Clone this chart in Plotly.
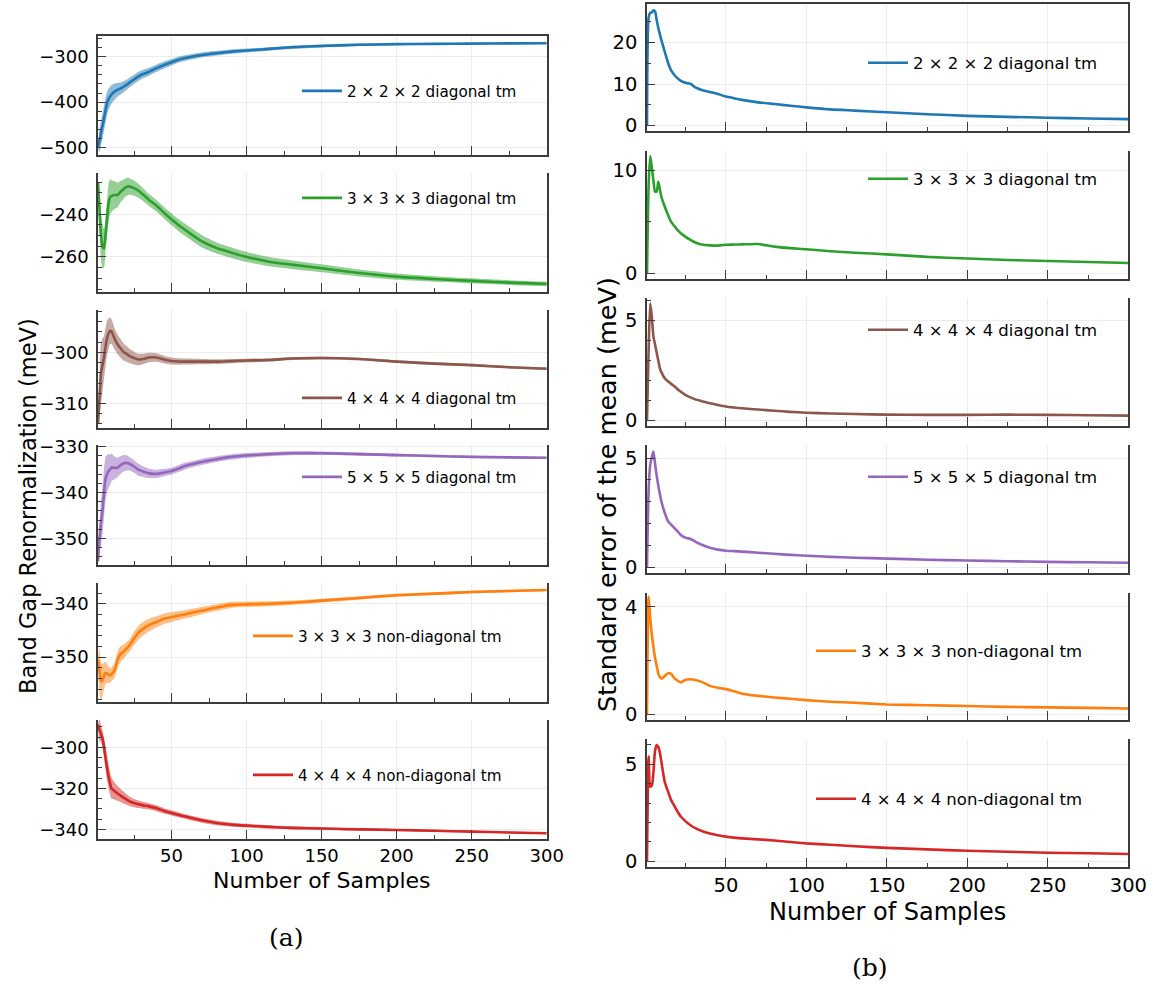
import plotly.graph_objects as go

W, H = 1153, 990

# ---------------- data ----------------
X = [1, 2, 3, 4, 5, 6, 7, 8, 9, 10, 12, 14, 16, 18, 20, 22, 25, 28, 31, 35, 40, 45,
     50, 55, 60, 70, 80, 90, 100, 115, 130, 150, 175, 200, 225, 250, 275, 300]

labels = ["2 × 2 × 2 diagonal tm", "3 × 3 × 3 diagonal tm", "4 × 4 × 4 diagonal tm",
          "5 × 5 × 5 diagonal tm", "3 × 3 × 3 non-diagonal tm", "4 × 4 × 4 non-diagonal tm"]
colors = ["#1f77b4", "#2ca02c", "#8c564b", "#9467bd", "#ff7f0e", "#d62728"]

# Band gap renormalization (meV), mean
mean_222d = [-500, -485, -468, -453, -436, -419, -403, -394, -388, -383, -377, -373, -370, -366,
             -362, -357, -350, -343, -338, -333, -325, -318, -312, -306, -302, -296, -292, -288.5,
             -286, -282.5, -279, -276, -273.5, -272, -271.3, -270.8, -270.3, -270]
mean_333d = [-225, -238, -250, -255, -256, -250, -242, -235, -232, -231.5, -231, -231, -229.5,
             -228.3, -227.2, -227, -227.8, -229, -230.8, -233.3, -236, -239.3, -242.4, -245.3,
             -247.8, -252.6, -255.8, -258, -260, -262.2, -263.6, -265.3, -267.5, -269.2, -270.3,
             -271.2, -272, -272.6]
mean_444d = [-314, -309, -304, -302.5, -301, -299, -297.2, -296.3, -295.8, -295.9, -297.3, -298.4,
             -299.2, -299.9, -300.3, -300.7, -301.1, -301.4, -301.3, -301, -301, -301.4, -301.7,
             -301.8, -301.8, -301.8, -301.8, -301.7, -301.6, -301.5, -301.2, -301.1, -301.3,
             -301.8, -302.2, -302.5, -302.9, -303.2]
mean_555d = [-355, -350, -346.5, -344, -340, -337, -336, -335.3, -335, -334.5, -334.6, -334.5,
             -334, -333.6, -333.5, -333.7, -334.3, -335, -335.4, -335.8, -335.9, -335.6, -335.3,
             -334.7, -334.1, -333.3, -332.7, -332.2, -331.9, -331.6, -331.4, -331.4, -331.6,
             -331.8, -332, -332.2, -332.3, -332.4]
mean_333n = [-350.5, -352.5, -354.5, -354.3, -353.5, -353, -353, -353.3, -353.4, -353.2, -352.5,
             -350.5, -349.4, -349, -348.4, -347.8, -346.5, -345.4, -344.7, -344, -343.4, -342.8,
             -342.5, -342.2, -341.9, -341.3, -340.7, -340.2, -340.1, -340, -339.8, -339.4,
             -338.9, -338.4, -338.1, -337.8, -337.6, -337.4]
mean_444n = [-289, -291.5, -293.5, -295.6, -300, -305, -310, -314, -317.5, -320, -321.3, -322.5,
             -323.5, -324.5, -325.4, -326.3, -327.2, -327.8, -328.3, -328.8, -329.7, -331, -332,
             -333, -333.9, -335.6, -336.9, -337.7, -338.2, -338.8, -339.3, -339.6, -340, -340.3,
             -340.7, -341.1, -341.5, -341.9]

# Standard error of the mean (meV)
sem_222d = [0, 26, 27.2, 27.3, 27.8, 27.5, 25.5, 23.5, 22, 20.5, 17.8, 15.2, 13.3, 12.2, 11.4,
            10.8, 10.3, 10.1, 9.2, 8.6, 8.1, 7.6, 7.0, 6.6, 6.2, 5.6, 5.2, 4.8, 4.4, 3.9, 3.6,
            3.2, 2.75, 2.35, 2.1, 1.9, 1.7, 1.55]
sem_333d = [0, 8.5, 11.4, 10.3, 9.0, 7.95, 7.95, 8.9, 8.2, 7.4, 6.5, 5.7, 5.0, 4.6, 4.2, 3.9,
            3.55, 3.25, 3.0, 2.8, 2.72, 2.7, 2.78, 2.8, 2.82, 2.85, 2.6, 2.45, 2.35, 2.15, 2.0,
            1.85, 1.6, 1.45, 1.3, 1.2, 1.1, 1.0]
sem_444d = [0, 3.5, 5.87, 5.2, 4.2, 3.8, 3.4, 3.0, 2.6, 2.4, 2.1, 1.95, 1.82, 1.7, 1.55, 1.42,
            1.25, 1.14, 1.04, 0.95, 0.85, 0.76, 0.68, 0.63, 0.59, 0.53, 0.47, 0.41, 0.37, 0.33,
            0.3, 0.27, 0.26, 0.26, 0.27, 0.26, 0.24, 0.22]
sem_555d = [0, 3.5, 4.7, 5.05, 5.3, 4.75, 4.2, 3.75, 3.35, 3.0, 2.5, 2.12, 1.95, 1.8, 1.65, 1.48,
            1.35, 1.3, 1.18, 1.03, 0.9, 0.81, 0.76, 0.74, 0.72, 0.67, 0.62, 0.57, 0.53, 0.48,
            0.44, 0.4, 0.35, 0.31, 0.28, 0.25, 0.23, 0.21]
sem_333n = [0, 4.38, 3.6, 2.95, 2.5, 2.1, 1.8, 1.52, 1.38, 1.32, 1.42, 1.52, 1.5, 1.33, 1.25,
            1.18, 1.28, 1.3, 1.27, 1.2, 1.05, 0.98, 0.93, 0.85, 0.76, 0.68, 0.62, 0.57, 0.52,
            0.46, 0.42, 0.36, 0.33, 0.3, 0.27, 0.25, 0.23, 0.21]
sem_444n = [0, 5.4, 3.85, 3.9, 4.6, 5.7, 6.0, 5.9, 5.6, 5.1, 4.1, 3.6, 3.15, 2.85, 2.55, 2.3,
            2.05, 1.85, 1.7, 1.55, 1.42, 1.33, 1.26, 1.21, 1.17, 1.12, 1.06, 0.98, 0.91, 0.84,
            0.76, 0.68, 0.6, 0.53, 0.48, 0.43, 0.4, 0.36]

means = [mean_222d, mean_333d, mean_444d, mean_555d, mean_333n, mean_444n]
sems = [sem_222d, sem_333d, sem_444d, sem_555d, sem_333n, sem_444n]

# ---------------- layout geometry (px) ----------------
left_x = (98, 546.7)
right_x = (647, 1128.4)
left_rows = [(36, 155), (173, 292), (310, 428), (445, 565), (583, 702), (720, 839)]
right_rows = [(4, 131), (151, 279), (298, 426), (445, 573), (593, 720), (739, 867)]

left_yr = [(-517, -254), (-276.4, -220.7), (-314.8, -291.7), (-355.8, -329.6),
           (-358.4, -336.1), (-344.7, -286.7)]
left_dt = [(100, 20), (20, 5), (10, 2), (10, 2), (10, 2), (20, 5)]
right_yr = [(-1.3, 29.3), (-0.55, 11.9), (-0.3, 6.14), (-0.26, 5.6), (-0.22, 4.51), (-0.31, 6.31)]
right_dt = [(10, 5), (10, 5), (5, 1), (5, 1), (4, 2), (5, 1)]

left_leg = [(297, 91), (297, 198), (297, 398), (297, 477), (248, 636), (248, 775)]
right_leg = [(863, 63), (863, 179), (863, 330), (863, 477), (811, 651), (811, 799)]


def rgba(hexc, a):
    h = hexc.lstrip("#")
    return "rgba(%d,%d,%d,%.2f)" % (int(h[0:2], 16), int(h[2:4], 16), int(h[4:6], 16), a)


fig = go.Figure()
layout = dict(width=W, height=H, margin=dict(l=0, r=0, t=0, b=0, autoexpand=False),
              paper_bgcolor="white", plot_bgcolor="white",
              font=dict(family="DejaVu Sans", color="black"))

SPINE = "#3c3c3c"
GRID = "#ececec"
SHAPE = dict(shape="spline", smoothing=0.6)

for i in range(6):
    for side in range(2):
        n = i * 2 + side + 1
        xa = "x" if n == 1 else "x%d" % n
        ya = "y" if n == 1 else "y%d" % n
        xkey = "xaxis" if n == 1 else "xaxis%d" % n
        ykey = "yaxis" if n == 1 else "yaxis%d" % n
        legkey = "legend" if n == 1 else "legend%d" % n
        if side == 0:
            xd, rows, yr, dt, leg, tfs, lfs = left_x, left_rows, left_yr, left_dt, left_leg, 18, 15.2
        else:
            xd, rows, yr, dt, leg, tfs, lfs = right_x, right_rows, right_yr, right_dt, right_leg, 19.5, 16.5
        top, bot = rows[i]
        c = colors[i]
        if side == 0:
            upper = [m + s for m, s in zip(means[i], sems[i])]
            lower = [m - s for m, s in zip(means[i], sems[i])]
            fig.add_trace(go.Scatter(x=X, y=upper, xaxis=xa, yaxis=ya, mode="lines",
                                     line=dict(width=0, color=c, **SHAPE), showlegend=False,
                                     hoverinfo="skip"))
            fig.add_trace(go.Scatter(x=X, y=lower, xaxis=xa, yaxis=ya, mode="lines",
                                     line=dict(width=0, color=c, **SHAPE), fill="tonexty",
                                     fillcolor=rgba(c, 0.5), showlegend=False,
                                     hoverinfo="skip"))
            fig.add_trace(go.Scatter(x=X, y=means[i], xaxis=xa, yaxis=ya, mode="lines",
                                     line=dict(width=2.6, color=c, **SHAPE), name=labels[i],
                                     legend=legkey))
        else:
            fig.add_trace(go.Scatter(x=X, y=sems[i], xaxis=xa, yaxis=ya, mode="lines",
                                     line=dict(width=2.6, color=c, **SHAPE), name=labels[i],
                                     legend=legkey))
        last = (i == 5)
        lx, ly = leg[i]
        layout[xkey] = dict(
            domain=[xd[0] / W, xd[1] / W], anchor=ya, range=[1, 300], automargin=False,
            tick0=0, dtick=50, ticks="inside", ticklen=9, tickwidth=1.3, tickcolor=SPINE,
            minor=dict(ticks="inside", dtick=25, tick0=0, ticklen=4, tickwidth=1, tickcolor=SPINE,
                       showgrid=False),
            showgrid=True, gridcolor=GRID, gridwidth=1,
            showline=True, linecolor=SPINE, linewidth=1.5, mirror=(i == 0),
            showticklabels=last, tickfont=dict(size=tfs, family="DejaVu Sans", color="black"),
            zeroline=False)
        layout[ykey] = dict(
            domain=[1 - bot / H, 1 - top / H], anchor=xa, range=list(yr[i]), automargin=False,
            tick0=0, dtick=dt[i][0], ticks="inside", ticklen=8, tickwidth=1.3, tickcolor=SPINE,
            minor=dict(ticks="inside", dtick=dt[i][1], tick0=0, ticklen=4, tickwidth=1,
                       tickcolor=SPINE, showgrid=False),
            showgrid=True, gridcolor=GRID, gridwidth=1,
            showline=True, linecolor=SPINE, linewidth=1.5, mirror=True,
            tickfont=dict(size=tfs, family="DejaVu Sans", color="black"),
            zeroline=False, ticklabelstandoff=4)
        layout[legkey] = dict(x=lx / W, y=1 - ly / H, xanchor="left", yanchor="middle",
                              bgcolor="rgba(0,0,0,0)", borderwidth=0,
                              font=dict(size=lfs, family="DejaVu Sans", color="black"),
                              itemwidth=40)

annotations = [
    dict(text="Number of Samples", x=322 / W, y=1 - 880 / H, xref="paper", yref="paper",
         showarrow=False, font=dict(size=22, family="DejaVu Sans", color="black"),
         xanchor="center", yanchor="middle"),
    dict(text="Number of Samples", x=887 / W, y=1 - 912 / H, xref="paper", yref="paper",
         showarrow=False, font=dict(size=24, family="DejaVu Sans", color="black"),
         xanchor="center", yanchor="middle"),
    dict(text="Band Gap Renormalization (meV)", x=28 / W, y=1 - 506 / H, xref="paper",
         yref="paper", showarrow=False, textangle=-90,
         font=dict(size=22.5, family="DejaVu Sans", color="black"),
         xanchor="center", yanchor="middle"),
    dict(text="Standard error of the mean (meV)", x=607 / W, y=1 - 495 / H, xref="paper",
         yref="paper", showarrow=False, textangle=-90,
         font=dict(size=25.5, family="DejaVu Sans", color="black"),
         xanchor="center", yanchor="middle"),
    dict(text="(a)", x=286 / W, y=1 - 937 / H, xref="paper", yref="paper", showarrow=False,
         font=dict(size=25, family="DejaVu Serif", color="black"),
         xanchor="center", yanchor="middle"),
    dict(text="(b)", x=870 / W, y=1 - 967 / H, xref="paper", yref="paper", showarrow=False,
         font=dict(size=25, family="DejaVu Serif", color="black"),
         xanchor="center", yanchor="middle"),
]
layout["annotations"] = annotations
fig.update_layout(**layout)
fig.write_html("out.html")
